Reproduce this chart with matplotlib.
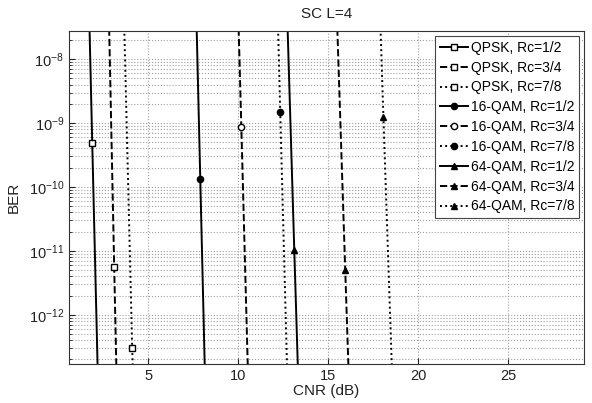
import matplotlib
matplotlib.use("Agg")
import matplotlib.pyplot as plt
from matplotlib.ticker import LogLocator, NullFormatter, FixedLocator

plt.rcParams['font.family'] = ['Liberation Sans', 'DejaVu Sans']

labels = ["QPSK, Rc=1/2", "QPSK, Rc=3/4", "QPSK, Rc=7/8",
          "16-QAM, Rc=1/2", "16-QAM, Rc=3/4", "16-QAM, Rc=7/8",
          "64-QAM, Rc=1/2", "64-QAM, Rc=3/4", "64-QAM, Rc=7/8"]

x_ticks = [5, 10, 15, 20, 25]
y_ticks = [1e-12, 1e-11, 1e-10, 1e-9, 1e-8]

# CNR (dB) at BER = [top, marker, bottom]
cnr_qpsk_12 = [1.74, 1.89, 2.19]
cnr_qpsk_34 = [2.83, 3.11, 3.23]
cnr_qpsk_78 = [3.67, 4.11, 4.14]
cnr_16_12 = [7.69, 7.89, 8.14]
cnr_16_34 = [10.02, 10.17, 10.53]
cnr_16_78 = [12.21, 12.33, 12.71]
cnr_64_12 = [12.74, 13.11, 13.31]
cnr_64_34 = [15.50, 15.94, 16.12]
cnr_64_78 = [17.90, 18.06, 18.53]

ber_qpsk_12 = [3e-8, 4.9e-10, 1.5e-13]
ber_qpsk_34 = [3e-8, 5.6e-12, 1.5e-13]
ber_qpsk_78 = [3e-8, 3.0e-13, 1.5e-13]
ber_16_12 = [3e-8, 1.33e-10, 1.5e-13]
ber_16_34 = [3e-8, 8.7e-10, 1.5e-13]
ber_16_78 = [3e-8, 1.5e-9, 1.5e-13]
ber_64_12 = [3e-8, 1.04e-11, 1.5e-13]
ber_64_34 = [3e-8, 5.0e-12, 1.5e-13]
ber_64_78 = [3e-8, 1.25e-9, 1.5e-13]

cnrs = [cnr_qpsk_12, cnr_qpsk_34, cnr_qpsk_78, cnr_16_12, cnr_16_34, cnr_16_78,
        cnr_64_12, cnr_64_34, cnr_64_78]
bers = [ber_qpsk_12, ber_qpsk_34, ber_qpsk_78, ber_16_12, ber_16_34, ber_16_78,
        ber_64_12, ber_64_34, ber_64_78]

styles = ['-', '--', ':'] * 3
markers = ['s'] * 3 + ['o'] * 3 + ['^'] * 3
mfaces = ['white', 'white', 'white', 'black', 'white', 'black', 'black', 'black', 'black']

fig = plt.figure(figsize=(5.92, 4.03), dpi=100)
ax = fig.add_axes([69/592, 1 - 364/403, (584 - 69)/592, (364 - 31)/403])

for x, y, ls, mk, mf, lab in zip(cnrs, bers, styles, markers, mfaces, labels):
    ax.plot(x, y, color='black', linestyle=ls, linewidth=1.4, marker=mk,
            markevery=[1], markersize=4.5, markerfacecolor=mf,
            markeredgecolor='black', markeredgewidth=1.0, label=lab)

ax.set_yscale('log')
ax.set_xlim(0.6, 29.2)
ax.set_ylim(1.7e-13, 2.75e-8)
ax.xaxis.set_major_locator(FixedLocator(x_ticks))
ax.yaxis.set_major_locator(FixedLocator(y_ticks))
ax.yaxis.set_minor_locator(LogLocator(base=10, subs=range(2, 10), numticks=20))
ax.yaxis.set_minor_formatter(NullFormatter())

ax.grid(True, which='major', axis='both', linestyle=':', color='#a0a0a0', linewidth=0.8)
ax.grid(True, which='minor', axis='y', linestyle=':', color='#a0a0a0', linewidth=0.8)
ax.tick_params(axis='both', which='both', direction='in', labelsize=10.5, colors='#222222')
ax.tick_params(which='minor', length=2)
ax.tick_params(which='major', length=4)
for s in ax.spines.values():
    s.set_color('#333333')
    s.set_linewidth(0.8)

ax.set_xlabel('CNR (dB)', fontsize=11, labelpad=1, color='#222222')
ax.set_ylabel('BER', fontsize=11, labelpad=6, color='#222222')
ax.set_title('SC L=4', fontsize=11, pad=9, color='#222222')

leg = ax.legend(loc='upper right', fontsize=10, frameon=True, fancybox=False,
                edgecolor='#444444', framealpha=1, handlelength=2.0, handletextpad=0.2,
                labelspacing=0.42, borderpad=0.35, borderaxespad=0.35)
leg.get_frame().set_linewidth(0.8)

fig.savefig('out.png', dpi=100)
